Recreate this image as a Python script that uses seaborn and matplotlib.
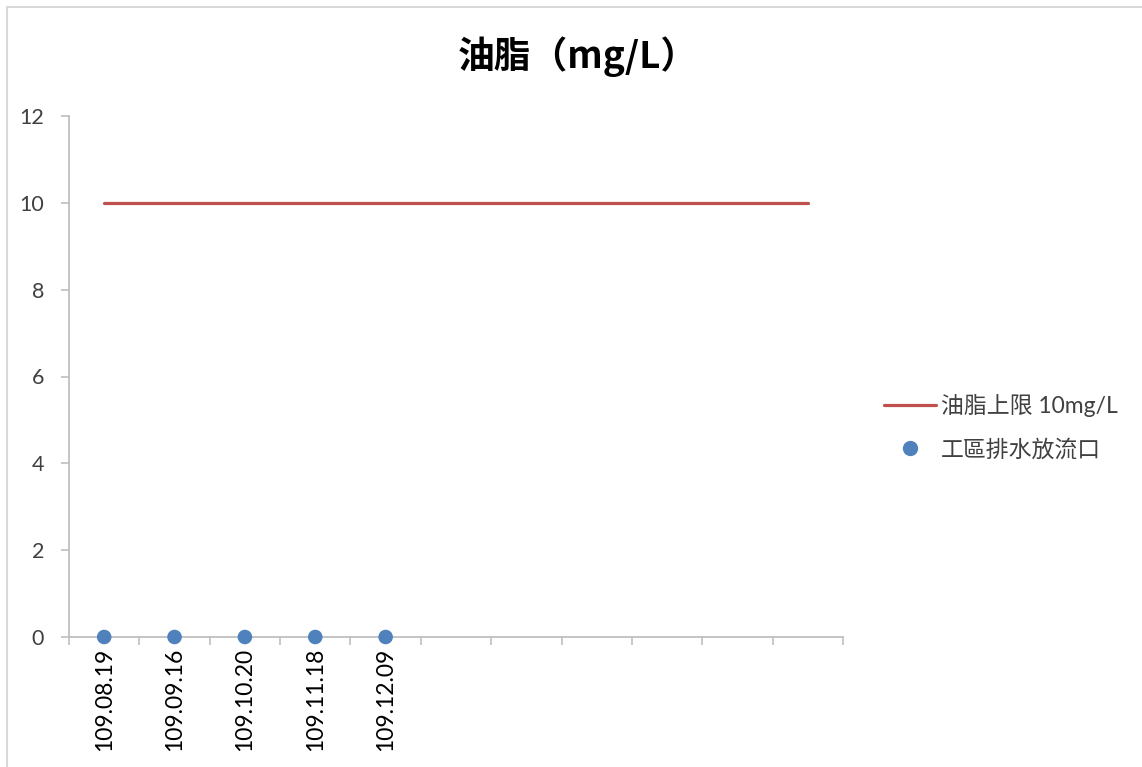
import matplotlib
matplotlib.use("Agg")
import matplotlib.pyplot as plt
import seaborn as sns
import pandas as pd
from matplotlib.lines import Line2D

# ---- data ----
dates = ["109.08.19", "109.09.16", "109.10.20", "109.11.18", "109.12.09"]
outlet_values = [0, 0, 0, 0, 0]
n_categories = 11
limit_values = [10] * n_categories
limit_label = "油脂上限 10mg/L"
outlet_label = "工區排水放流口"
title = "油脂（mg/L）"
y_ticks = [0, 2, 4, 6, 8, 10, 12]

sns.set_theme(style="white")
plt.rcParams['font.family'] = ['Lato', 'Noto Sans CJK TC', 'DejaVu Sans']

fig = plt.figure(figsize=(11.42, 7.67), dpi=100)
ax = fig.add_axes([69/1142, 1 - 637/767, 774/1142, 521/767])

limit_df = pd.DataFrame({"x": list(range(n_categories)), "y": limit_values})
outlet_df = pd.DataFrame({"x": list(range(len(dates))), "y": outlet_values})

sns.lineplot(data=limit_df, x="x", y="y", ax=ax, color="#C0504D", linewidth=2.3,
             label=limit_label, legend=False)
sns.scatterplot(data=outlet_df, x="x", y="y", ax=ax, color="#4F81BD", s=110,
                edgecolor="none", label=outlet_label, legend=False, zorder=5,
                clip_on=False)

ax.set_xlim(-0.5, n_categories - 0.5)
ax.set_ylim(0, 12)
ax.set_yticks(y_ticks)
ax.set_yticklabels([str(v) for v in y_ticks], fontsize=15.5, color="#404040")

# category boundaries as major ticks, labels at centers as minor ticks
ax.set_xticks([i - 0.5 for i in range(n_categories + 1)])
ax.set_xticklabels([])
ax.set_xticks(list(range(len(dates))), minor=True)
ax.set_xticklabels(dates, minor=True, rotation=90, fontsize=16.5, color="#000000")
ax.tick_params(axis="x", which="minor", length=0, pad=8)
ax.tick_params(axis="x", which="major", length=6, width=1.2, color="#BFBFBF", direction="out")
ax.tick_params(axis="y", which="major", length=6, width=1.2, color="#BFBFBF", direction="out", pad=12)
ax.tick_params(axis="both", which="both", bottom=True, left=True)
ax.tick_params(axis="x", which="minor", bottom=False)

for s in ["top", "right"]:
    ax.spines[s].set_visible(False)
for s in ["left", "bottom"]:
    ax.spines[s].set_color("#BFBFBF")
    ax.spines[s].set_linewidth(1.3)
ax.set_xlabel("")
ax.set_ylabel("")
ax.grid(False)

fig.text(578/1142, 1 - 57/767, title, ha="center", va="center", fontsize=26.5,
         fontweight="bold", family=['Noto Sans CJK TC', 'DejaVu Sans'], color="#000000")

handles = [Line2D([0], [0], color="#C0504D", linewidth=2.3),
           Line2D([0], [0], color="#4F81BD", marker="o", linestyle="none", markersize=10)]
leg = fig.legend(handles, [limit_label, outlet_label], loc="center left",
                 bbox_to_anchor=(863/1142, 1 - 427/767), frameon=False,
                 handlelength=2.3, handletextpad=0.2, labelspacing=0.95,
                 prop={'family': ['Lato', 'Noto Sans CJK TC'], 'size': 16.5})
for t in leg.get_texts():
    t.set_color("#404040")

# chart area border (top and left visible)
fig.add_artist(Line2D([7/1142, 7/1142], [0, 1 - 7/767], transform=fig.transFigure,
                      color="#D9D9D9", linewidth=1.5))
fig.add_artist(Line2D([7/1142, 1], [1 - 7/767, 1 - 7/767], transform=fig.transFigure,
                      color="#D9D9D9", linewidth=1.5))

fig.savefig("out.png", dpi=100, facecolor="white")
